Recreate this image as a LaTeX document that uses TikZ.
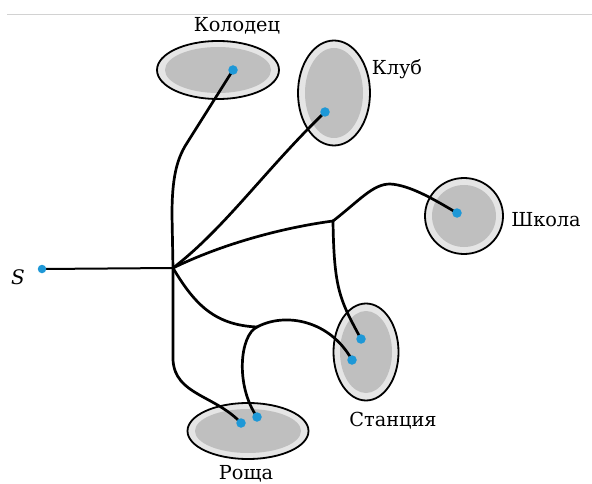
\documentclass[tikz,border=0pt]{standalone}
\usepackage{fontspec}
\setmainfont{DejaVu Serif}
\usetikzlibrary{shapes.geometric}
\definecolor{dotblue}{RGB}{30,152,215}
\tikzset{
  area/.style={ellipse, draw=black, line width=1.8pt, fill=gray!20, inner sep=0pt},
  areacore/.style={ellipse, fill=gray!50, inner sep=0pt, draw=none},
  road/.style={line width=2.7pt, black, line cap=round},
  sroad/.style={line width=2pt, black},
  pt/.style={circle, fill=dotblue, inner sep=0pt, minimum size=9.5pt},
  lbl/.style={font=\fontsize{19.3}{22}\selectfont, inner sep=0pt}
}
\begin{document}
\begin{tikzpicture}[x=1pt,y=-1pt]
\useasboundingbox (0,0) rectangle (592,484);
\fill[white] (0,0) rectangle (592,484);
\draw[gray!35, line width=1.5pt] (7,14.5) -- (592,14.5);
% areas
\node[area, minimum width=122pt, minimum height=58pt] (kol) at (218,70) {};
\node[areacore, minimum width=106pt, minimum height=46pt] (kolc) at (218,70) {};
\node[area, minimum width=72pt, minimum height=105pt] (klub) at (334,93) {};
\node[areacore, minimum width=58pt, minimum height=90pt] (klubc) at (334,93) {};
\node[area, minimum width=78pt, minimum height=76pt] (shk) at (464,216) {};
\node[areacore, minimum width=64pt, minimum height=62pt] (shkc) at (464,216) {};
\node[area, minimum width=65pt, minimum height=97pt] (sta) at (366,352) {};
\node[areacore, minimum width=52pt, minimum height=82pt] (stac) at (366,352) {};
\node[area, minimum width=121pt, minimum height=56pt] (rosh) at (248,431) {};
\node[areacore, minimum width=106pt, minimum height=44pt] (roshc) at (248,431) {};
% point positions
\coordinate (s) at (42,269);
\coordinate (pk) at (233,70);
\coordinate (pkl) at (325,112);
\coordinate (psh) at (457,213);
\coordinate (pst1) at (361,339);
\coordinate (pst2) at (352,360);
\coordinate (pr1) at (241,423);
\coordinate (pr2) at (257,417);
\coordinate (j) at (173,268);
\coordinate (j2) at (257,327);
\coordinate (j3) at (333,221);
% roads
\draw[sroad] (s) -- (j);
\draw[road] (j) -- (172,215) .. controls (172,180) and (176,160) .. (187,143) -- (pk);
\draw[road] (j) .. controls (225,228) and (265,170) .. (pkl);
\draw[road] (j) .. controls (220,245) and (280,228) .. (j3);
\draw[road] (j3) .. controls (360,200) and (373,184) .. (390,184) .. controls (410,185) and (435,200) .. (psh);
\draw[road] (j3) .. controls (334,290) and (340,300) .. (pst1);
\draw[road] (j) .. controls (195,305) and (215,325) .. (j2);
\draw[road] (j2) .. controls (285,312) and (330,320) .. (pst2);
\draw[road] (j2) .. controls (240,335) and (235,385) .. (pr2);
\draw[road] (j) -- (173,360) .. controls (175,395) and (215,395) .. (pr1);
% points
\node[pt, minimum size=8.5pt] (sdot) at (s) {};
\node[pt] (kdot) at (pk) {};
\node[pt] (kldot) at (pkl) {};
\node[pt] (shdot) at (psh) {};
\node[pt] (st1dot) at (pst1) {};
\node[pt] (st2dot) at (pst2) {};
\node[pt] (r1dot) at (pr1) {};
\node[pt] (r2dot) at (pr2) {};
% labels
\node[lbl] (lkol) at (237,26) {Колодец};
\node[lbl] (lklub) at (397,69) {Клуб};
\node[lbl] (lshk) at (546,220) {Школа};
\node[lbl] (lsta) at (393,421) {Станция};
\node[lbl] (lrosh) at (246,474) {Роща};
\node[lbl, font=\fontsize{20}{22}\selectfont\itshape] (ls) at (18,277) {S};
\end{tikzpicture}
\end{document}
